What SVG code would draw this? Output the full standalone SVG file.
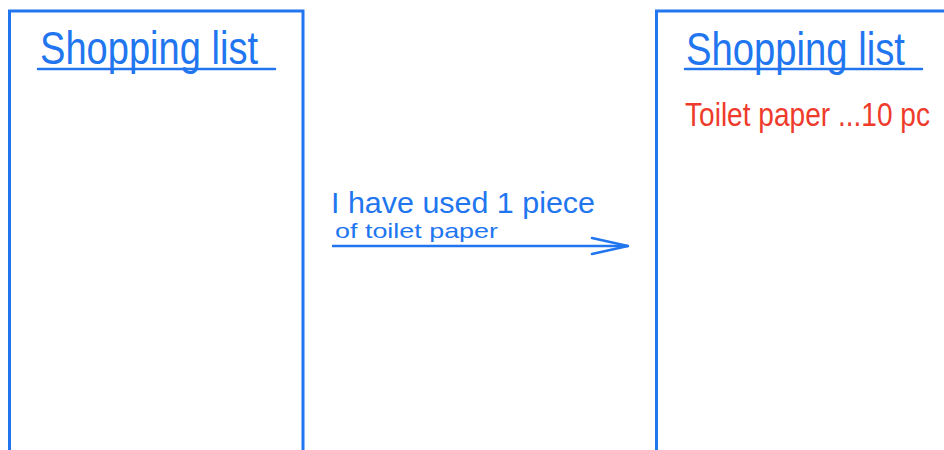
<svg xmlns="http://www.w3.org/2000/svg" width="944" height="450" viewBox="0 0 944 450">
<defs>
<style>
.box{fill:none;stroke:#2176f0;stroke-width:3}
.ul{stroke:#2176f0;stroke-width:2.5;stroke-linecap:round}
.t{font-family:"Liberation Sans",Arial,sans-serif;fill:#2176f0}
.r{font-family:"Liberation Sans",Arial,sans-serif;fill:#ee3b2c}
</style>
<marker id="ah" markerWidth="40" markerHeight="20" refX="38" refY="10" markerUnits="userSpaceOnUse" orient="auto">
<path d="M2,2 L38,10 L2,18" fill="none" stroke="#2176f0" stroke-width="2.5" stroke-linecap="round" stroke-linejoin="round"/>
</marker>
</defs>
<rect width="944" height="450" fill="#fff"/>
<g id="list-before">
<path class="box" d="M9.5,460 V11 H303 V460"/>
<text class="t" x="40" y="64" font-size="46" textLength="218" lengthAdjust="spacingAndGlyphs">Shopping list</text>
<line class="ul" x1="38" y1="69" x2="275" y2="69"/>
</g>
<g id="list-after">
<path class="box" d="M656.5,460 V11 H960"/>
<text class="t" x="686" y="65" font-size="46" textLength="219" lengthAdjust="spacingAndGlyphs">Shopping list</text>
<line class="ul" x1="685" y1="69" x2="922" y2="69"/>
<text class="r" x="685" y="126" font-size="34" textLength="245" lengthAdjust="spacingAndGlyphs">Toilet paper ...10 pc</text>
</g>
<g id="connectors">
<line x1="332" y1="246" x2="628" y2="246" stroke="#2176f0" stroke-width="2.5" marker-end="url(#ah)"/>
<text class="t" x="331" y="213" font-size="30" textLength="264" lengthAdjust="spacingAndGlyphs">I have used 1 piece</text>
<text class="t" x="335" y="238" font-size="21" textLength="163" lengthAdjust="spacingAndGlyphs">of toilet paper</text>
</g>
</svg>
